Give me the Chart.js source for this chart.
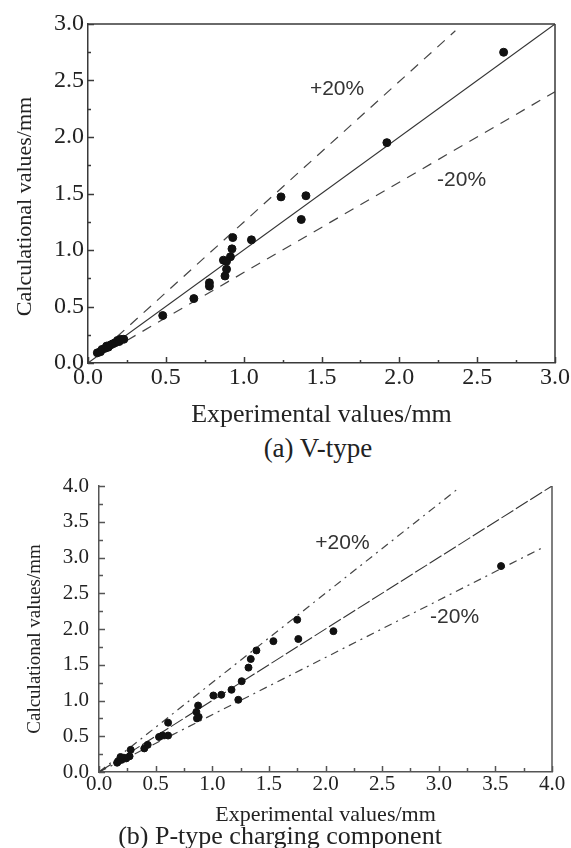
<!DOCTYPE html>
<html>
<head>
<meta charset="utf-8">
<script src="https://cdn.jsdelivr.net/npm/chart.js@4.4.0/dist/chart.umd.min.js"></script>
<style>
  body { margin: 0; background: #fff; width: 571px; height: 848px; position: relative; overflow: hidden; }
  .box { position: absolute; left: 0; }
  .cap { position: absolute; left: 0; text-align: center; font-family: "Liberation Serif", serif; color: #222; }
</style>
</head>
<body>
<div class="box" style="top:0"><canvas id="chartA" width="571" height="432"></canvas></div>
<div class="cap" style="top:432px;width:636px;font-size:27px;line-height:32px">(a) V-type</div>
<div class="box" style="top:460px"><canvas id="chartB" width="571" height="368"></canvas></div>
<div class="cap" style="top:820px;width:560px;font-size:26px;line-height:32px">(b) P-type charging component</div>

<script>
// === (a) V-type: experimental vs calculational ===
const expA = [2.67, 1.92, 1.24, 1.40, 1.37, 1.05, 0.93, 0.925, 0.915, 0.87, 0.89, 0.89, 0.88, 0.78, 0.78, 0.68, 0.48,
              0.06, 0.08, 0.09, 0.11, 0.12, 0.13, 0.145, 0.16, 0.175, 0.19, 0.20, 0.21, 0.23];
const calA = [2.75, 1.95, 1.47, 1.48, 1.27, 1.09, 1.11, 1.01, 0.94, 0.91, 0.90, 0.83, 0.77, 0.71, 0.68, 0.57, 0.42,
              0.09, 0.10, 0.12, 0.13, 0.15, 0.14, 0.16, 0.17, 0.18, 0.20, 0.19, 0.21, 0.21];

// reference lines (end points)
const diagAX = [0, 3.0],    diagAY = [0, 3.0];
const plusAX = [0.1, 2.36], plusAY = [0.125, 2.94];
const minusAX = [0.25, 3.0], minusAY = [0.2, 2.4];

// === (b) P-type charging component ===
const expB = [3.55, 2.07, 1.75, 1.76, 1.54, 1.39, 1.34, 1.32, 1.26, 1.23, 1.17, 1.08, 1.01, 0.875, 0.86, 0.88, 0.865,
              0.61, 0.61, 0.56, 0.53, 0.43, 0.40, 0.28, 0.27, 0.24, 0.22, 0.20, 0.19, 0.17, 0.16];
const calB = [2.88, 1.97, 2.13, 1.86, 1.83, 1.70, 1.58, 1.46, 1.27, 1.01, 1.15, 1.08, 1.07, 0.93, 0.84, 0.77, 0.75,
              0.69, 0.51, 0.51, 0.49, 0.38, 0.33, 0.31, 0.22, 0.19, 0.20, 0.17, 0.21, 0.15, 0.13];

const diagBX = [0, 4.0],   diagBY = [0, 4.0];
const plusBX = [0, 3.16],  plusBY = [0, 3.95];
const minusBX = [0, 3.92], minusBY = [0, 3.14];

// "+20%" / "-20%" notes (data units)
const notesA = [{ text: "+20%", x: 1.60, y: 2.42 }, { text: "-20%", x: 2.40, y: 1.62 }];
const notesB = [{ text: "+20%", x: 2.15, y: 3.20 }, { text: "-20%", x: 3.14, y: 2.17 }];

const pts = (xs, ys) => xs.map((x, i) => ({ x: x, y: ys[i] }));

// inner ticks, missing frame sides, y title and the % notes
function framePlugin(notes, o) {
  return {
    id: "frame",
    afterDatasetsDraw(chart) {
      const { ctx, chartArea: a, scales: { x, y } } = chart;
      ctx.save();
      ctx.strokeStyle = o.color;
      ctx.lineWidth = 1.5;
      ctx.beginPath();
      for (let v = x.min; v <= x.max + 1e-9; v += 0.25) {
        const px = Math.round(x.getPixelForValue(v)) + 0.5;
        const len = Math.abs(v * 2 - Math.round(v * 2)) < 1e-6 ? o.major : o.minor;
        ctx.moveTo(px, a.bottom); ctx.lineTo(px, a.bottom - len);
      }
      for (let v = y.min; v <= y.max + 1e-9; v += 0.25) {
        const py = Math.round(y.getPixelForValue(v)) + 0.5;
        const len = Math.abs(v * 2 - Math.round(v * 2)) < 1e-6 ? o.major : o.minor;
        ctx.moveTo(a.left, py); ctx.lineTo(a.left + len, py);
      }
      if (o.top) { ctx.moveTo(a.left, a.top); ctx.lineTo(a.right, a.top); }
      if (o.right) { ctx.moveTo(a.right, a.top); ctx.lineTo(a.right, a.bottom); }
      ctx.stroke();

      ctx.fillStyle = "#333";
      ctx.textAlign = "center";
      ctx.textBaseline = "middle";
      ctx.font = o.noteFont;
      notes.forEach(n => ctx.fillText(n.text, x.getPixelForValue(n.x), y.getPixelForValue(n.y)));

      // y title, sits a bit below the axis middle
      ctx.fillStyle = "#222";
      ctx.font = o.yTitleFont;
      ctx.translate(o.yTitleX, (a.top + a.bottom) / 2 + o.yTitleShift);
      ctx.rotate(-Math.PI / 2);
      ctx.fillText("Calculational values/mm", 0, 0);
      ctx.restore();
    }
  };
}

function makeChart(id, cfg) {
  const serif = "Liberation Serif";
  return new Chart(document.getElementById(id), {
    type: "scatter",
    data: {
      datasets: [
        { data: cfg.points, backgroundColor: "#111", borderColor: "#111", pointRadius: cfg.radius, order: 0 },
        { data: cfg.diag, showLine: true, borderColor: "#333", borderWidth: 1.1, borderDash: cfg.diagDash, pointRadius: 0, order: 1 },
        { data: cfg.plus, showLine: true, borderColor: "#444", borderWidth: 1.2, borderDash: cfg.dash, pointRadius: 0, order: 1 },
        { data: cfg.minus, showLine: true, borderColor: "#444", borderWidth: 1.2, borderDash: cfg.dash, pointRadius: 0, order: 1 }
      ]
    },
    options: {
      responsive: false,
      animation: false,
      layout: { padding: cfg.padding },
      plugins: { legend: { display: false }, tooltip: { enabled: false } },
      scales: {
        x: {
          type: "linear", min: 0, max: cfg.max,
          afterFit: s => { s.height = cfg.xHeight; },
          grid: { display: false, drawTicks: false },
          border: { color: cfg.axisColor, width: 1.5 },
          ticks: { stepSize: 0.5, padding: 0, color: "#222", maxRotation: 0, autoSkip: false,
                   font: { family: serif, size: cfg.tickSize }, callback: v => v.toFixed(1) },
          title: { display: true, text: "Experimental values/mm", color: "#222",
                   font: { family: serif, size: cfg.xTitleSize }, padding: { top: 0, bottom: cfg.xTitlePad } }
        },
        y: {
          type: "linear", min: 0, max: cfg.max,
          afterFit: s => { s.width = cfg.yWidth; },
          grid: { display: false, drawTicks: false },
          border: { color: cfg.axisColor, width: 1.5 },
          ticks: { stepSize: 0.5, padding: cfg.yTickPad, color: "#222",
                   font: { family: serif, size: cfg.tickSize }, callback: v => v.toFixed(1) }
        }
      }
    },
    plugins: [framePlugin(cfg.notes, cfg.frame)]
  });
}

makeChart("chartA", {
  points: pts(expA, calA), radius: 4,
  diag: pts(diagAX, diagAY), plus: pts(plusAX, plusAY), minus: pts(minusAX, minusAY),
  diagDash: [], dash: [10, 8],
  max: 3, padding: { top: 24, right: 16, left: 0, bottom: 0 },
  xHeight: 69, yWidth: 88, axisColor: "#3a3a3a",
  tickSize: 24, yTickPad: 4, xTitleSize: 26, xTitlePad: 1,
  notes: notesA,
  frame: { color: "#3a3a3a", major: 6, minor: 3, top: true, right: true, noteFont: "21px 'Liberation Sans'",
           yTitleFont: "22px 'Liberation Serif'", yTitleX: 25, yTitleShift: 13 }
});

makeChart("chartB", {
  points: pts(expB, calB), radius: 3.5,
  diag: pts(diagBX, diagBY), plus: pts(plusBX, plusBY), minus: pts(minusBX, minusBY),
  diagDash: [14, 3], dash: [8, 5, 2, 5],
  max: 4, padding: { top: 26, right: 19, left: 0, bottom: 0 },
  xHeight: 56, yWidth: 99, axisColor: "#555",
  tickSize: 21, yTickPad: 10, xTitleSize: 22, xTitlePad: 0,
  notes: notesB,
  frame: { color: "#555", major: 6, minor: 4, top: false, right: true, noteFont: "21px 'Liberation Sans'",
           yTitleFont: "19px 'Liberation Serif'", yTitleX: 35, yTitleShift: 10 }
});
</script>
</body>
</html>
